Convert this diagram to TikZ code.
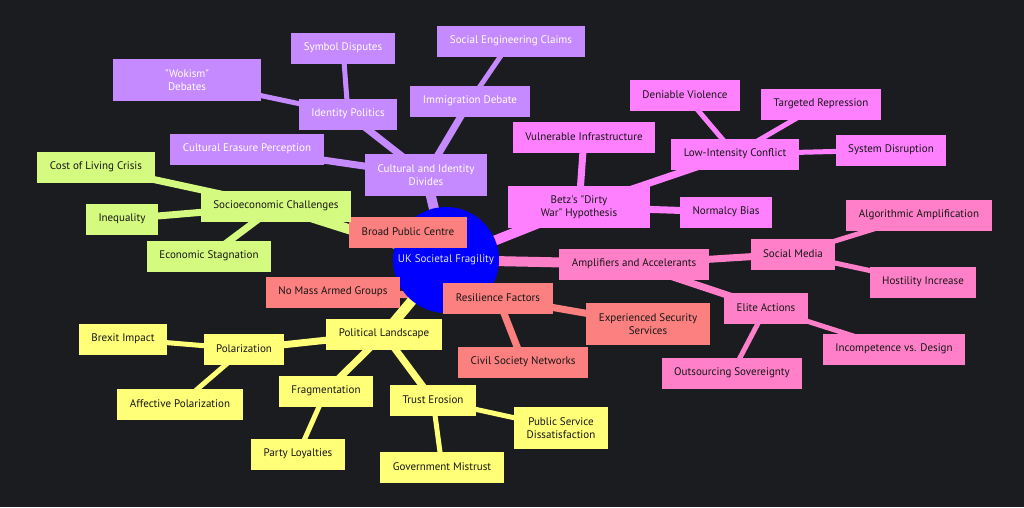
\documentclass[tikz,border=0pt]{standalone}
\usepackage{fontspec}
\setmainfont{PT Sans}[Ligatures=TeXOff]
\usepackage{xcolor}
\definecolor{bgdark}{RGB}{27,28,32}
\definecolor{purp}{RGB}{197,138,255}
\definecolor{lime}{RGB}{213,250,128}
\definecolor{mage}{RGB}{255,128,255}
\definecolor{pinkb}{RGB}{255,128,200}
\definecolor{salm}{RGB}{252,128,128}
\definecolor{yell}{RGB}{255,255,120}
\definecolor{inkdark}{RGB}{22,22,22}
\definecolor{inkroot}{RGB}{225,225,255}
\pgfdeclarelayer{bg}
\pgfdeclarelayer{edges}
\pgfsetlayers{bg,edges,main}

\begin{document}
\begin{tikzpicture}[x=1pt,y=-1pt,
    box/.style={rectangle,inner xsep=12.5pt,inner ysep=0pt,minimum height=31pt,
      align=center,font=\fontsize{11}{12.5}\selectfont,text=inkdark},
    two/.style={minimum height=42pt},
    cul/.style={box,fill=purp,text=white},
    dir/.style={box,fill=mage},
    amp/.style={box,fill=pinkb},
    res/.style={box,fill=salm},
    pol/.style={box,fill=yell},
    soc/.style={box,fill=lime},
    eA/.style={line width=10pt},
    eB/.style={line width=7pt},
    eC/.style={line width=5pt}]
    \begin{pgfonlayer}{bg}
        \fill[bgdark] (0,0) rectangle (1024,507);
    \end{pgfonlayer}
    \useasboundingbox (0,0) rectangle (1024,507);
    % 中心
    \node[circle,fill=blue,minimum size=106pt,inner sep=0pt,text=inkroot,
        font=\fontsize{11}{12.5}\selectfont] (root) at (446,260) {UK Societal Fragility};
    % 文化
    \node[cul,two] (cult) at (426,175) {Cultural and Identity\\Divides};
    \node[cul] (idpol) at (348,114) {Identity Politics};
    \node[cul] (symb) at (343,48) {Symbol Disputes};
    \node[cul,two,minimum width=148pt] (woke) at (187,80) {"Wokism"\\Debates};
    \node[cul] (immig) at (470,101) {Immigration Debate};
    \node[cul] (soceng) at (511,41) {Social Engineering Claims};
    \node[cul] (erase) at (247,149) {Cultural Erasure Perception};
    % Betz
    \node[dir,two,minimum width=142pt] (betz) at (579,207) {Betz's "Dirty\\War" Hypothesis};
    \node[dir] (vuln) at (584,137) {Vulnerable Infrastructure};
    \node[dir] (lowint) at (735,154) {Low-Intensity Conflict};
    \node[dir] (deni) at (685,95) {Deniable Violence};
    \node[dir] (targ) at (821,104) {Targeted Repression};
    \node[dir] (sysd) at (891,150) {System Disruption};
    \node[dir] (norm) at (726,212) {Normalcy Bias};
    % 放大
    \node[amp] (ampl) at (634,264) {Amplifiers and Accelerants};
    \node[amp] (socmed) at (793,254) {Social Media};
    \node[amp] (algo) at (919,215) {Algorithmic Amplification};
    \node[amp] (host) at (923,282) {Hostility Increase};
    \node[amp] (elite) at (766,308) {Elite Actions};
    \node[amp] (incomp) at (894,349) {Incompetence vs. Design};
    \node[amp] (outs) at (732,373) {Outsourcing Sovereignty};
    % 韧性
    \node[res] (resil) at (498,298) {Resilience Factors};
    \node[res,two] (expsec) at (648,324) {Experienced Security\\Services};
    \node[res] (civil) at (523,362) {Civil Society Networks};
    \node[res] (nomass) at (333,292) {No Mass Armed Groups};
    \node[res] (broad) at (408,232) {Broad Public Centre};
    % 政治
    \node[pol] (polit) at (384,334) {Political Landscape};
    \node[pol] (polar) at (244,349) {Polarization};
    \node[pol] (brexit) at (123,339) {Brexit Impact};
    \node[pol] (affect) at (180,404) {Affective Polarization};
    \node[pol] (frag) at (326,391) {Fragmentation};
    \node[pol] (party) at (298,454) {Party Loyalties};
    \node[pol] (trust) at (433,400) {Trust Erosion};
    \node[pol] (govm) at (442,467) {Government Mistrust};
    \node[pol,two] (pubs) at (561,428) {Public Service\\Dissatisfaction};
    % 社会经济
    \node[soc] (socio) at (276,206) {Socioeconomic Challenges};
    \node[soc] (costl) at (96,167) {Cost of Living Crisis};
    \node[soc] (ineq) at (122,219) {Inequality};
    \node[soc] (econ) at (209,256) {Economic Stagnation};

    \begin{pgfonlayer}{edges}
        \draw[purp,eA] (root.center) -- (cult.center);
        \draw[purp,eB] (cult.center) -- (idpol.center);
        \draw[purp,eB] (cult.center) -- (immig.center);
        \draw[purp,eB] (cult.center) -- (erase.center);
        \draw[purp,eC] (idpol.center) -- (symb.center);
        \draw[purp,eC] (idpol.center) -- (woke.center);
        \draw[purp,eC] (immig.center) -- (soceng.center);
        \draw[mage,eA] (root.center) -- (betz.center);
        \draw[mage,eB] (betz.center) -- (vuln.center);
        \draw[mage,eB] (betz.center) -- (lowint.center);
        \draw[mage,eB] (betz.center) -- (norm.center);
        \draw[mage,eC] (lowint.center) -- (deni.center);
        \draw[mage,eC] (lowint.center) -- (targ.center);
        \draw[mage,eC] (lowint.center) -- (sysd.center);
        \draw[pinkb,eA] (root.center) -- (ampl.center);
        \draw[pinkb,eB] (ampl.center) -- (socmed.center);
        \draw[pinkb,eB] (ampl.center) -- (elite.center);
        \draw[pinkb,eC] (socmed.center) -- (algo.center);
        \draw[pinkb,eC] (socmed.center) -- (host.center);
        \draw[pinkb,eC] (elite.center) -- (incomp.center);
        \draw[pinkb,eC] (elite.center) -- (outs.center);
        \draw[salm,eA] (root.center) -- (resil.center);
        \draw[salm,eB] (resil.center) -- (expsec.center);
        \draw[salm,eB] (resil.center) -- (civil.center);
        \draw[salm,eB] (resil.center) -- (nomass.center);
        \draw[salm,eB] (resil.center) -- (broad.center);
        \draw[yell,eA] (root.center) -- (polit.center);
        \draw[yell,eB] (polit.center) -- (polar.center);
        \draw[yell,eB] (polit.center) -- (frag.center);
        \draw[yell,eB] (polit.center) -- (trust.center);
        \draw[yell,eC] (polar.center) -- (brexit.center);
        \draw[yell,eC] (polar.center) -- (affect.center);
        \draw[yell,eC] (frag.center) -- (party.center);
        \draw[yell,eC] (trust.center) -- (govm.center);
        \draw[yell,eC] (trust.center) -- (pubs.center);
        \draw[lime,eA] (root.center) -- (socio.center);
        \draw[lime,eB] (socio.center) -- (costl.center);
        \draw[lime,eB] (socio.center) -- (ineq.center);
        \draw[lime,eB] (socio.center) -- (econ.center);
    \end{pgfonlayer}
\end{tikzpicture}
\end{document}
